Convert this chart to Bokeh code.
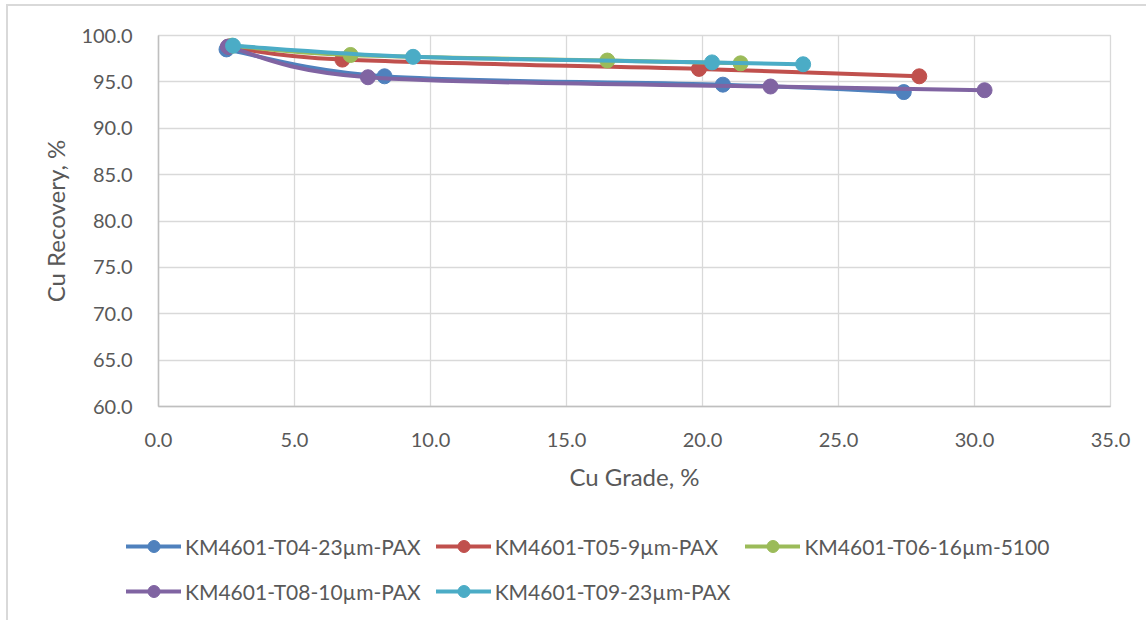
from bokeh.plotting import figure
from bokeh.models import (Legend, LegendItem, NumeralTickFormatter, SingleIntervalTicker, Range1d)
from bokeh.embed import file_html
from bokeh.resources import INLINE

# ---- data ----
t04_x = [2.50, 8.31, 20.75, 27.40]
t04_y = [98.5, 95.6, 94.7, 93.9]
t05_x = [2.57, 6.76, 19.87, 27.97]
t05_y = [98.8, 97.4, 96.4, 95.6]
t06_x = [2.70, 7.06, 16.50, 21.40]
t06_y = [98.9, 97.9, 97.3, 97.0]
t08_x = [2.55, 7.70, 22.50, 30.37]
t08_y = [98.8, 95.5, 94.5, 94.1]
t09_x = [2.74, 9.36, 20.35, 23.70]
t09_y = [98.9, 97.7, 97.1, 96.9]

names = ["KM4601-T04-23µm-PAX", "KM4601-T05-9µm-PAX", "KM4601-T06-16µm-5100",
         "KM4601-T08-10µm-PAX", "KM4601-T09-23µm-PAX"]
colors = ["#4F81BD", "#C0504D", "#9BBB59", "#8064A2", "#4BACC6"]
series = [(t04_x, t04_y), (t05_x, t05_y), (t06_x, t06_y), (t08_x, t08_y), (t09_x, t09_y)]

FONT = "Lato"
TXT = "#595959"
BORDER = "2px solid #D9D9D9"

p = figure(width=1140, height=510, output_backend="svg", toolbar_location=None,
           x_range=Range1d(0, 35), y_range=Range1d(60, 100),
           min_border_left=150, min_border_right=38, min_border_top=29, min_border_bottom=110,
           styles={"margin-left": "6px", "margin-top": "4px",
                   "border-left": BORDER, "border-top": BORDER})
p.background_fill_color = "white"
p.border_fill_color = "white"
p.outline_line_color = "#D9D9D9"
p.outline_line_width = 1.3

for ax in (p.xaxis, p.yaxis):
    ax.ticker = SingleIntervalTicker(interval=5)
    ax.formatter = NumeralTickFormatter(format="0.0")
    ax.major_tick_line_color = None
    ax.minor_tick_line_color = None
    ax.axis_line_color = "#BFBFBF"
    ax.axis_line_width = 1.5
    ax.major_label_text_font = FONT
    ax.major_label_text_font_size = "20px"
    ax.major_label_text_color = TXT
    ax.axis_label_text_font = FONT
    ax.axis_label_text_font_size = "24px"
    ax.axis_label_text_font_style = "normal"
    ax.axis_label_text_color = TXT

p.xaxis.axis_label = "Cu Grade, %"
p.yaxis.axis_label = "Cu Recovery, %"
p.xaxis.major_label_standoff = 20
p.yaxis.major_label_standoff = 20
p.xaxis.axis_label_standoff = 12
p.yaxis.axis_label_standoff = 8

p.xgrid.grid_line_color = "#D9D9D9"
p.ygrid.grid_line_color = "#D9D9D9"
p.xgrid.grid_line_width = 1.3
p.ygrid.grid_line_width = 1.3


def smooth_controls(xs, ys):
    n = len(xs)
    out = {k: [] for k in ("x0", "y0", "x1", "y1", "cx0", "cy0", "cx1", "cy1")}
    for i in range(n - 1):
        pxm = xs[i - 1] if i > 0 else xs[i]
        pym = ys[i - 1] if i > 0 else ys[i]
        pxp = xs[i + 2] if i + 2 < n else xs[i + 1]
        pyp = ys[i + 2] if i + 2 < n else ys[i + 1]
        out["x0"].append(xs[i]); out["y0"].append(ys[i])
        out["x1"].append(xs[i + 1]); out["y1"].append(ys[i + 1])
        out["cx0"].append(xs[i] + (xs[i + 1] - pxm) / 6.0)
        out["cy0"].append(ys[i] + (ys[i + 1] - pym) / 6.0)
        out["cx1"].append(xs[i + 1] - (pxp - xs[i]) / 6.0)
        out["cy1"].append(ys[i + 1] - (pyp - ys[i]) / 6.0)
    return out


for (xs, ys), col in zip(series, colors):
    c = smooth_controls(xs, ys)
    p.bezier(line_color=col, line_width=4, line_cap="round", **c)
    p.scatter(xs, ys, size=15, fill_color=col, line_color=col, line_width=1)

# ---- legend strip (separate root canvas so it can sit outside the plot frame) ----
lg = figure(width=1140, height=106, output_backend="svg", toolbar_location=None,
            x_axis_type=None, y_axis_type=None, x_range=Range1d(0, 1), y_range=Range1d(0, 1),
            min_border=0, styles={"margin-left": "6px", "border-left": BORDER})
lg.outline_line_color = None
lg.grid.visible = False
lg.background_fill_color = "white"
lg.border_fill_color = "white"

# legend-only proxy renderers: their single point lies outside the strip's view
proxy_x = [-5]
proxy_y = [-5]
items = []
for name, col in zip(names, colors):
    lr = lg.line(x=proxy_x, y=proxy_y, line_color=col, line_width=4, line_cap="round")
    sr = lg.scatter(x=proxy_x, y=proxy_y, size=15, fill_color=col, line_color=col, line_width=1)
    items.append(LegendItem(label=name, renderers=[lr, sr]))

legend = Legend(items=items, orientation="horizontal", nrows=2,
                location=(118, 14), margin=0,
                label_text_font=FONT, label_text_font_size="21px", label_text_color=TXT,
                glyph_width=55, glyph_height=30, label_height=30, label_standoff=4,
                spacing=15, padding=10, border_line_color=None,
                background_fill_alpha=0)
lg.add_layout(legend, "center")

open("out.html", "w").write(file_html([p, lg], INLINE))
